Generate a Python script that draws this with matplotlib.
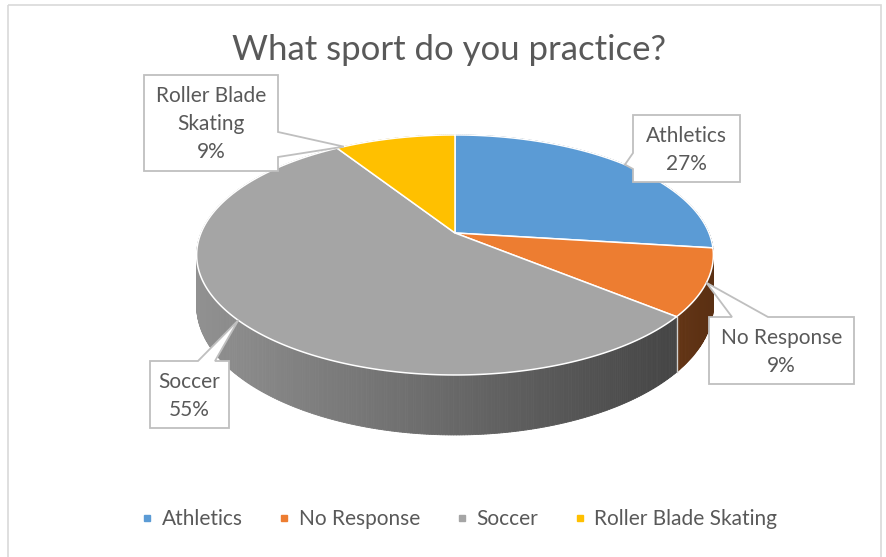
import numpy as np
import matplotlib
matplotlib.use("Agg")
import matplotlib.pyplot as plt
from matplotlib.patches import Polygon, Rectangle
from matplotlib.collections import PolyCollection
from matplotlib.lines import Line2D

W, H = 886, 557

categories = ["Athletics", "No Response", "Soccer", "Roller Blade Skating"]
shares = [27, 9, 55, 9]
colors = ["#5B9BD5", "#ED7D31", "#A5A5A5", "#FFC000"]
label_names = ["Athletics", "No Response", "Soccer", "Roller Blade\nSkating"]

TEXT = "#595959"
plt.rcParams["font.family"] = ["Lato", "DejaVu Sans"]

# pie geometry (pixels), slight perspective so the front looks bigger
CX, CY = 455, 233
RX, RY = 254, 116
PERSP = 0.183
DEPTH = 49
X_LEFT, X_RIGHT = CX - 259, CX + 259


def project(theta, z=0.0):
    u = np.sin(theta)
    v = np.cos(theta)
    w = 1 + PERSP * v
    return CX + RX * u / w, CY - RY * v / w + DEPTH * z / w


def shade(color, x):
    rgb = np.array(matplotlib.colors.to_rgb(color))
    f = 0.88 - 0.50 * (x - X_LEFT) / (X_RIGHT - X_LEFT)
    return tuple(np.clip(rgb * f, 0, 1))


def callout(ax, box, side, a0, a1, tip, text):
    l, t, r, b = box
    if side == "left":
        pts = [(l, t), (r, t), (r, b), (l, b), (l, a1), tip, (l, a0)]
    elif side == "right":
        pts = [(l, t), (r, t), (r, a0), tip, (r, a1), (r, b), (l, b)]
    else:
        pts = [(l, t), (a0, t), tip, (a1, t), (r, t), (r, b), (l, b)]
    ax.add_patch(Polygon(pts, closed=True, facecolor="white",
                         edgecolor="#BFBFBF", lw=1.3, zorder=5))
    ax.text((l + r) / 2, (t + b) / 2 + 1, text, ha="center", va="center",
            fontsize=15, color=TEXT, linespacing=1.5, zorder=6)


fig = plt.figure(figsize=(W / 100, H / 100), dpi=100)
ax = fig.add_axes([0, 0, 1, 1])
ax.set_xlim(0, W)
ax.set_ylim(H, 0)
ax.axis("off")

ax.add_patch(Rectangle((8, 5), 873, 560, facecolor="none",
                       edgecolor="#D9D9D9", lw=1.2))

fracs = np.array(shares) / sum(shares)
bounds = np.concatenate([[0], np.cumsum(fracs)]) * 2 * np.pi

# side wall, drawn back to front in thin strips
quads, qcols, keys = [], [], []
for i in range(len(shares)):
    th = np.linspace(bounds[i], bounds[i + 1], max(int(fracs[i] * 720), 4))
    for a, b in zip(th[:-1], th[1:]):
        x0, y0 = project(a)
        x1, y1 = project(b)
        x2, y2 = project(b, 1)
        x3, y3 = project(a, 1)
        quads.append([(x0, y0), (x1, y1), (x2, y2), (x3, y3)])
        qcols.append(shade(colors[i], (x0 + x1) / 2))
        keys.append(-np.cos((a + b) / 2))
order = np.argsort(keys)
quads = [quads[j] for j in order]
qcols = [qcols[j] for j in order]
ax.add_collection(PolyCollection(quads, facecolors=qcols, edgecolors=qcols,
                                 lw=0.6, zorder=1))

for a in bounds[:-1]:
    if np.cos(a) < -PERSP:
        xa, ya = project(a)
        xb, yb = project(a, 1)
        ax.plot([xa, xb], [ya, yb], color="#D0D0D0", lw=1, zorder=2)

# top faces
for i in range(len(shares)):
    th = np.linspace(bounds[i], bounds[i + 1], 200)
    xs, ys = project(th)
    pts = [(CX, CY)] + list(zip(xs, ys))
    ax.add_patch(Polygon(pts, closed=True, facecolor=colors[i],
                         edgecolor="white", lw=1.1, zorder=3))

# data labels with callout pointers to the rim of each slice
boxes = [(633, 115, 740, 182), (709, 317, 854, 384),
         (150, 361, 229, 428), (144, 75, 278, 171)]
sides = ["left", "top", "top", "right"]
attach = [(153, 169), (732, 768), (198, 215), (132, 157)]
tip_shift = [0.0, 0.0, 0.0, -0.22]   # fraction of the slice to move the tip
for i in range(len(shares)):
    mid = (bounds[i] + bounds[i + 1]) / 2
    tip = project(mid + tip_shift[i] * (bounds[i + 1] - bounds[i]) * 2)
    callout(ax, boxes[i], sides[i], attach[i][0], attach[i][1], tip,
            f"{label_names[i]}\n{shares[i]}%")

ax.text(449, 50, "What sport do you practice?", ha="center", va="center",
        fontsize=25, color=TEXT)

handles = [Line2D([], [], marker="s", linestyle="none", markersize=5,
                  color=c) for c in colors]
fig.legend(handles, categories, loc="center",
           bbox_to_anchor=(458 / W, 1 - 519 / H), ncol=4, frameon=False,
           fontsize=15, handletextpad=0.3, columnspacing=1.6,
           handlelength=0.8, labelcolor=TEXT)

fig.savefig("out.png", dpi=100)
